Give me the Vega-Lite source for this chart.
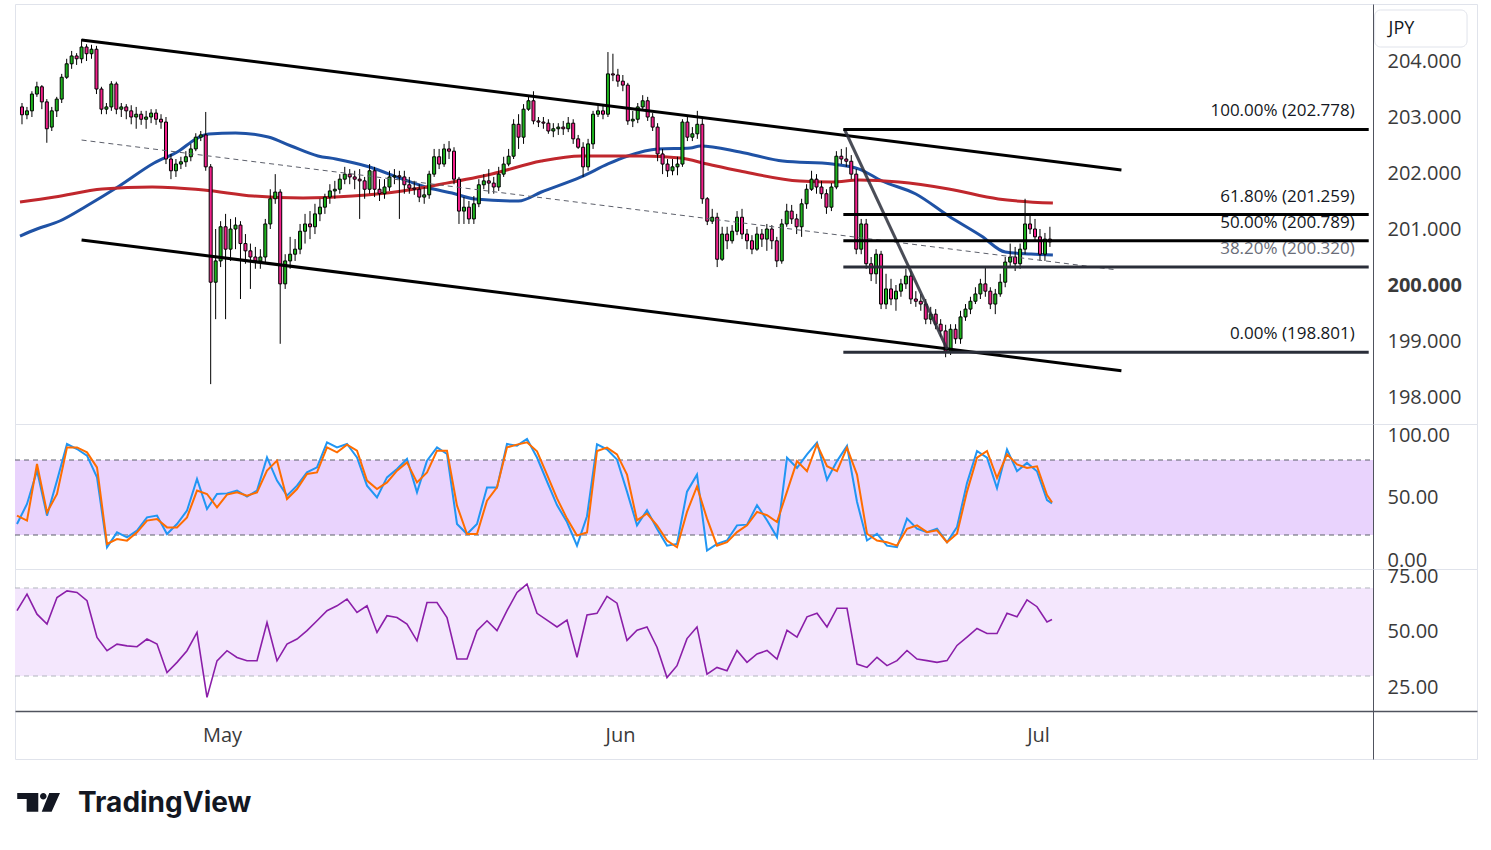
{
  "$schema": "https://vega.github.io/schema/vega-lite/v6.json",
  "background": "white",
  "padding": {"left": 12, "top": 3, "right": 0, "bottom": 0},
  "bounds": "flush",
  "spacing": 0,
  "config": {
    "view": {"stroke": "#e0e3eb", "strokeWidth": 1},
    "font": "Open Sans",
    "axis": {"grid": false, "ticks": false, "labelFont": "Open Sans", "labelFontSize": 20, "labelColor": "#3a3a3a", "domainColor": "#50535e", "domainWidth": 1, "labelOverlap": false, "labelFlush": false, "labelBound": false}
  },
  "datasets": {
    "candles": [
      {"i":0,"o":203.18,"h":203.25,"l":202.87,"c":203.04},
      {"i":1,"o":203.04,"h":203.18,"l":202.96,"c":203.11},
      {"i":2,"o":203.11,"h":203.46,"l":203.00,"c":203.41},
      {"i":3,"o":203.41,"h":203.63,"l":203.36,"c":203.54},
      {"i":4,"o":203.54,"h":203.57,"l":203.14,"c":203.27},
      {"i":5,"o":203.27,"h":203.32,"l":202.54,"c":202.79},
      {"i":6,"o":202.82,"h":203.18,"l":202.75,"c":203.11},
      {"i":7,"o":203.11,"h":203.36,"l":203.00,"c":203.32},
      {"i":8,"o":203.32,"h":203.77,"l":203.25,"c":203.71},
      {"i":9,"o":203.71,"h":204.04,"l":203.68,"c":203.95},
      {"i":10,"o":203.95,"h":204.18,"l":203.86,"c":204.09},
      {"i":11,"o":204.09,"h":204.14,"l":203.93,"c":204.04},
      {"i":12,"o":204.04,"h":204.39,"l":203.96,"c":204.25},
      {"i":13,"o":204.25,"h":204.30,"l":204.00,"c":204.13},
      {"i":14,"o":204.13,"h":204.29,"l":204.04,"c":204.21},
      {"i":15,"o":204.21,"h":204.27,"l":203.41,"c":203.50},
      {"i":16,"o":203.50,"h":203.54,"l":203.05,"c":203.14},
      {"i":17,"o":203.14,"h":203.25,"l":203.05,"c":203.18},
      {"i":18,"o":203.18,"h":203.64,"l":203.11,"c":203.59},
      {"i":19,"o":203.59,"h":203.63,"l":203.05,"c":203.14},
      {"i":20,"o":203.14,"h":203.25,"l":203.00,"c":203.18},
      {"i":21,"o":203.18,"h":203.23,"l":202.96,"c":203.11},
      {"i":22,"o":203.11,"h":203.21,"l":202.87,"c":203.00},
      {"i":23,"o":203.00,"h":203.18,"l":202.79,"c":203.05},
      {"i":24,"o":203.05,"h":203.11,"l":202.86,"c":202.96},
      {"i":25,"o":202.96,"h":203.11,"l":202.79,"c":203.00},
      {"i":26,"o":203.00,"h":203.14,"l":202.89,"c":203.07},
      {"i":27,"o":203.07,"h":203.14,"l":202.86,"c":202.96},
      {"i":28,"o":202.96,"h":203.05,"l":202.79,"c":202.91},
      {"i":29,"o":202.91,"h":203.00,"l":202.16,"c":202.25},
      {"i":30,"o":202.25,"h":202.34,"l":201.89,"c":202.04},
      {"i":31,"o":202.04,"h":202.25,"l":201.93,"c":202.16},
      {"i":32,"o":202.16,"h":202.29,"l":202.07,"c":202.20},
      {"i":33,"o":202.20,"h":202.39,"l":202.11,"c":202.29},
      {"i":34,"o":202.29,"h":202.52,"l":202.21,"c":202.43},
      {"i":35,"o":202.43,"h":202.71,"l":202.39,"c":202.64},
      {"i":36,"o":202.64,"h":202.75,"l":202.57,"c":202.68},
      {"i":37,"o":202.68,"h":203.09,"l":202.04,"c":202.11},
      {"i":38,"o":202.11,"h":202.16,"l":198.23,"c":200.05},
      {"i":39,"o":200.05,"h":201.00,"l":199.39,"c":200.43},
      {"i":40,"o":200.43,"h":201.14,"l":200.32,"c":201.04},
      {"i":41,"o":201.04,"h":201.27,"l":199.39,"c":200.64},
      {"i":42,"o":200.64,"h":201.18,"l":200.43,"c":201.00},
      {"i":43,"o":201.00,"h":201.21,"l":200.64,"c":201.07},
      {"i":44,"o":201.07,"h":201.14,"l":199.75,"c":200.74},
      {"i":45,"o":200.74,"h":200.91,"l":200.38,"c":200.61},
      {"i":46,"o":200.61,"h":200.74,"l":199.93,"c":200.50},
      {"i":47,"o":200.50,"h":200.68,"l":200.29,"c":200.43},
      {"i":48,"o":200.43,"h":200.64,"l":200.29,"c":200.50},
      {"i":49,"o":200.50,"h":201.18,"l":200.38,"c":201.09},
      {"i":50,"o":201.09,"h":201.71,"l":201.00,"c":201.54},
      {"i":51,"o":201.54,"h":201.98,"l":201.45,"c":201.66},
      {"i":52,"o":201.66,"h":201.71,"l":198.95,"c":200.02},
      {"i":53,"o":200.02,"h":200.55,"l":199.93,"c":200.43},
      {"i":54,"o":200.43,"h":200.86,"l":200.29,"c":200.55},
      {"i":55,"o":200.55,"h":200.82,"l":200.43,"c":200.64},
      {"i":56,"o":200.64,"h":201.09,"l":200.55,"c":200.96},
      {"i":57,"o":200.96,"h":201.27,"l":200.74,"c":201.09},
      {"i":58,"o":201.09,"h":201.32,"l":200.82,"c":201.04},
      {"i":59,"o":201.04,"h":201.45,"l":200.91,"c":201.27},
      {"i":60,"o":201.27,"h":201.54,"l":201.14,"c":201.39},
      {"i":61,"o":201.39,"h":201.63,"l":201.27,"c":201.57},
      {"i":62,"o":201.57,"h":201.80,"l":201.45,"c":201.68},
      {"i":63,"o":201.68,"h":201.86,"l":201.54,"c":201.71},
      {"i":64,"o":201.71,"h":201.98,"l":201.63,"c":201.89},
      {"i":65,"o":201.89,"h":202.11,"l":201.80,"c":201.98},
      {"i":66,"o":201.98,"h":202.07,"l":201.80,"c":201.93},
      {"i":67,"o":201.93,"h":202.04,"l":201.71,"c":201.89},
      {"i":68,"o":201.89,"h":202.07,"l":201.18,"c":201.86},
      {"i":69,"o":201.86,"h":201.93,"l":201.54,"c":201.71},
      {"i":70,"o":201.71,"h":202.16,"l":201.63,"c":202.04},
      {"i":71,"o":202.04,"h":202.11,"l":201.57,"c":201.71},
      {"i":72,"o":201.71,"h":201.89,"l":201.50,"c":201.63},
      {"i":73,"o":201.63,"h":201.89,"l":201.54,"c":201.75},
      {"i":74,"o":201.75,"h":202.04,"l":201.68,"c":201.93},
      {"i":75,"o":201.93,"h":202.07,"l":201.80,"c":201.95},
      {"i":76,"o":201.95,"h":202.04,"l":201.18,"c":201.93},
      {"i":77,"o":201.93,"h":202.04,"l":201.63,"c":201.79},
      {"i":78,"o":201.79,"h":201.93,"l":201.63,"c":201.73},
      {"i":79,"o":201.73,"h":201.86,"l":201.61,"c":201.71},
      {"i":80,"o":201.71,"h":201.80,"l":201.48,"c":201.57},
      {"i":81,"o":201.57,"h":201.75,"l":201.45,"c":201.61},
      {"i":82,"o":201.61,"h":202.04,"l":201.54,"c":201.98},
      {"i":83,"o":201.98,"h":202.43,"l":201.93,"c":202.29},
      {"i":84,"o":202.29,"h":202.43,"l":202.07,"c":202.16},
      {"i":85,"o":202.16,"h":202.52,"l":202.11,"c":202.43},
      {"i":86,"o":202.43,"h":202.57,"l":202.25,"c":202.39},
      {"i":87,"o":202.39,"h":202.46,"l":201.80,"c":201.89},
      {"i":88,"o":201.89,"h":201.93,"l":201.09,"c":201.32},
      {"i":89,"o":201.32,"h":201.57,"l":201.09,"c":201.39},
      {"i":90,"o":201.39,"h":201.50,"l":201.09,"c":201.18},
      {"i":91,"o":201.18,"h":201.59,"l":201.09,"c":201.45},
      {"i":92,"o":201.45,"h":201.89,"l":201.39,"c":201.79},
      {"i":93,"o":201.79,"h":201.98,"l":201.71,"c":201.86},
      {"i":94,"o":201.86,"h":202.07,"l":201.63,"c":201.82},
      {"i":95,"o":201.82,"h":201.93,"l":201.63,"c":201.75},
      {"i":96,"o":201.75,"h":202.11,"l":201.68,"c":201.98},
      {"i":97,"o":201.98,"h":202.29,"l":201.93,"c":202.16},
      {"i":98,"o":202.16,"h":202.43,"l":202.12,"c":202.30},
      {"i":99,"o":202.30,"h":202.96,"l":202.25,"c":202.87},
      {"i":100,"o":202.87,"h":203.05,"l":202.43,"c":202.64},
      {"i":101,"o":202.64,"h":203.23,"l":202.52,"c":203.14},
      {"i":102,"o":203.14,"h":203.39,"l":203.11,"c":203.29},
      {"i":103,"o":203.29,"h":203.46,"l":202.87,"c":202.93},
      {"i":104,"o":202.93,"h":203.00,"l":202.82,"c":202.91},
      {"i":105,"o":202.91,"h":203.00,"l":202.79,"c":202.89},
      {"i":106,"o":202.89,"h":202.96,"l":202.70,"c":202.75},
      {"i":107,"o":202.75,"h":202.89,"l":202.64,"c":202.79},
      {"i":108,"o":202.79,"h":202.89,"l":202.68,"c":202.82},
      {"i":109,"o":202.82,"h":202.93,"l":202.68,"c":202.79},
      {"i":110,"o":202.79,"h":203.00,"l":202.73,"c":202.89},
      {"i":111,"o":202.89,"h":202.96,"l":202.52,"c":202.61},
      {"i":112,"o":202.61,"h":202.68,"l":202.43,"c":202.46},
      {"i":113,"o":202.46,"h":202.55,"l":201.93,"c":202.11},
      {"i":114,"o":202.11,"h":202.61,"l":202.04,"c":202.52},
      {"i":115,"o":202.52,"h":203.11,"l":202.43,"c":203.05},
      {"i":116,"o":203.05,"h":203.21,"l":203.00,"c":203.11},
      {"i":117,"o":203.11,"h":203.23,"l":202.96,"c":203.05},
      {"i":118,"o":203.05,"h":204.16,"l":203.00,"c":203.77},
      {"i":119,"o":203.77,"h":204.13,"l":203.64,"c":203.75},
      {"i":120,"o":203.75,"h":203.86,"l":203.54,"c":203.64},
      {"i":121,"o":203.64,"h":203.75,"l":203.46,"c":203.57},
      {"i":122,"o":203.57,"h":203.61,"l":202.86,"c":202.93},
      {"i":123,"o":202.93,"h":203.11,"l":202.82,"c":202.96},
      {"i":124,"o":202.96,"h":203.25,"l":202.89,"c":203.18},
      {"i":125,"o":203.18,"h":203.39,"l":203.11,"c":203.29},
      {"i":126,"o":203.29,"h":203.36,"l":202.93,"c":203.00},
      {"i":127,"o":203.00,"h":203.07,"l":202.75,"c":202.82},
      {"i":128,"o":202.82,"h":202.89,"l":202.21,"c":202.34},
      {"i":129,"o":202.34,"h":202.43,"l":201.98,"c":202.16},
      {"i":130,"o":202.16,"h":202.25,"l":201.93,"c":202.04},
      {"i":131,"o":202.04,"h":202.25,"l":201.96,"c":202.11},
      {"i":132,"o":202.11,"h":202.29,"l":201.96,"c":202.16},
      {"i":133,"o":202.16,"h":202.96,"l":202.11,"c":202.91},
      {"i":134,"o":202.91,"h":203.00,"l":202.57,"c":202.64},
      {"i":135,"o":202.64,"h":202.82,"l":202.57,"c":202.70},
      {"i":136,"o":202.70,"h":203.11,"l":202.61,"c":202.87},
      {"i":137,"o":202.87,"h":203.00,"l":201.45,"c":201.54},
      {"i":138,"o":201.54,"h":201.57,"l":201.07,"c":201.14},
      {"i":139,"o":201.14,"h":201.36,"l":201.09,"c":201.21},
      {"i":140,"o":201.21,"h":201.29,"l":200.32,"c":200.46},
      {"i":141,"o":200.46,"h":201.04,"l":200.43,"c":200.91},
      {"i":142,"o":200.91,"h":201.04,"l":200.64,"c":200.79},
      {"i":143,"o":200.79,"h":201.07,"l":200.74,"c":200.96},
      {"i":144,"o":200.96,"h":201.32,"l":200.89,"c":201.21},
      {"i":145,"o":201.21,"h":201.36,"l":200.82,"c":200.91},
      {"i":146,"o":200.91,"h":201.00,"l":200.64,"c":200.79},
      {"i":147,"o":200.79,"h":200.89,"l":200.55,"c":200.64},
      {"i":148,"o":200.64,"h":201.04,"l":200.61,"c":200.91},
      {"i":149,"o":200.91,"h":201.00,"l":200.68,"c":200.82},
      {"i":150,"o":200.82,"h":201.09,"l":200.61,"c":201.00},
      {"i":151,"o":201.00,"h":201.07,"l":200.64,"c":200.79},
      {"i":152,"o":200.79,"h":200.86,"l":200.32,"c":200.43},
      {"i":153,"o":200.43,"h":201.18,"l":200.38,"c":201.09},
      {"i":154,"o":201.09,"h":201.45,"l":201.04,"c":201.32},
      {"i":155,"o":201.32,"h":201.43,"l":201.09,"c":201.18},
      {"i":156,"o":201.18,"h":201.27,"l":200.91,"c":201.04},
      {"i":157,"o":201.04,"h":201.54,"l":200.86,"c":201.45},
      {"i":158,"o":201.45,"h":201.80,"l":201.36,"c":201.71},
      {"i":159,"o":201.71,"h":202.04,"l":201.68,"c":201.89},
      {"i":160,"o":201.89,"h":201.98,"l":201.63,"c":201.75},
      {"i":161,"o":201.75,"h":201.86,"l":201.54,"c":201.63},
      {"i":162,"o":201.63,"h":201.71,"l":201.27,"c":201.39},
      {"i":163,"o":201.39,"h":201.82,"l":201.32,"c":201.75},
      {"i":164,"o":201.75,"h":202.39,"l":201.71,"c":202.30},
      {"i":165,"o":202.30,"h":202.43,"l":202.16,"c":202.25},
      {"i":166,"o":202.25,"h":202.46,"l":202.11,"c":202.21},
      {"i":167,"o":202.21,"h":202.32,"l":201.89,"c":201.98},
      {"i":168,"o":201.98,"h":202.07,"l":200.55,"c":200.64},
      {"i":169,"o":200.64,"h":201.18,"l":200.55,"c":201.09},
      {"i":170,"o":201.09,"h":201.18,"l":200.29,"c":200.38},
      {"i":171,"o":200.38,"h":200.50,"l":200.07,"c":200.20},
      {"i":172,"o":200.20,"h":200.64,"l":200.02,"c":200.55},
      {"i":173,"o":200.55,"h":200.61,"l":199.57,"c":199.66},
      {"i":174,"o":199.66,"h":200.20,"l":199.57,"c":199.93},
      {"i":175,"o":199.93,"h":200.11,"l":199.64,"c":199.75},
      {"i":176,"o":199.75,"h":200.00,"l":199.54,"c":199.89},
      {"i":177,"o":199.89,"h":200.11,"l":199.79,"c":200.02},
      {"i":178,"o":200.02,"h":200.29,"l":199.93,"c":200.16},
      {"i":179,"o":200.16,"h":200.25,"l":199.66,"c":199.75},
      {"i":180,"o":199.75,"h":199.89,"l":199.61,"c":199.71},
      {"i":181,"o":199.71,"h":199.84,"l":199.54,"c":199.66},
      {"i":182,"o":199.66,"h":199.75,"l":199.30,"c":199.39},
      {"i":183,"o":199.39,"h":199.61,"l":199.30,"c":199.48},
      {"i":184,"o":199.48,"h":199.57,"l":199.21,"c":199.30},
      {"i":185,"o":199.30,"h":199.39,"l":199.07,"c":199.18},
      {"i":186,"o":199.18,"h":199.29,"l":198.71,"c":198.82},
      {"i":187,"o":198.82,"h":199.30,"l":198.75,"c":199.21},
      {"i":188,"o":199.21,"h":199.30,"l":198.95,"c":199.04},
      {"i":189,"o":199.04,"h":199.54,"l":198.95,"c":199.43},
      {"i":190,"o":199.43,"h":199.66,"l":199.36,"c":199.57},
      {"i":191,"o":199.57,"h":199.79,"l":199.48,"c":199.71},
      {"i":192,"o":199.71,"h":199.96,"l":199.66,"c":199.84},
      {"i":193,"o":199.84,"h":200.11,"l":199.75,"c":200.02},
      {"i":194,"o":200.02,"h":200.32,"l":199.79,"c":199.89},
      {"i":195,"o":199.89,"h":199.96,"l":199.57,"c":199.66},
      {"i":196,"o":199.66,"h":199.93,"l":199.48,"c":199.84},
      {"i":197,"o":199.84,"h":200.20,"l":199.79,"c":200.05},
      {"i":198,"o":200.05,"h":200.50,"l":199.96,"c":200.41},
      {"i":199,"o":200.41,"h":200.74,"l":200.32,"c":200.50},
      {"i":200,"o":200.50,"h":200.68,"l":200.25,"c":200.38},
      {"i":201,"o":200.38,"h":200.74,"l":200.29,"c":200.64},
      {"i":202,"o":200.64,"h":201.54,"l":200.55,"c":201.09},
      {"i":203,"o":201.09,"h":201.27,"l":200.91,"c":201.00},
      {"i":204,"o":201.00,"h":201.18,"l":200.79,"c":200.86},
      {"i":205,"o":200.86,"h":201.00,"l":200.43,"c":200.55},
      {"i":206,"o":200.55,"h":200.93,"l":200.43,"c":200.82},
      {"i":207,"o":200.82,"h":201.04,"l":200.68,"c":200.77}
    ],
    "ma": [
      {"s":"fast","i":-0.4,"p":200.875},{"s":"fast","i":3,"p":201.0},{"s":"fast","i":7.6,"p":201.143},{"s":"fast","i":13,"p":201.411},
      {"s":"fast","i":19.6,"p":201.768},{"s":"fast","i":26.6,"p":202.179},{"s":"fast","i":31.6,"p":202.393},{"s":"fast","i":35,"p":202.607},
      {"s":"fast","i":37.6,"p":202.696},{"s":"fast","i":43,"p":202.714},{"s":"fast","i":49.6,"p":202.643},{"s":"fast","i":54.2,"p":202.482},
      {"s":"fast","i":59.6,"p":202.304},{"s":"fast","i":63.2,"p":202.25},{"s":"fast","i":70,"p":202.107},{"s":"fast","i":76.6,"p":201.893},
      {"s":"fast","i":82,"p":201.732},{"s":"fast","i":86.6,"p":201.643},{"s":"fast","i":91.2,"p":201.536},{"s":"fast","i":100,"p":201.5},
      {"s":"fast","i":104.6,"p":201.661},{"s":"fast","i":112.6,"p":201.929},{"s":"fast","i":118,"p":202.161},{"s":"fast","i":122,"p":202.304},
      {"s":"fast","i":128,"p":202.429},{"s":"fast","i":134.6,"p":202.446},{"s":"fast","i":136.6,"p":202.482},{"s":"fast","i":144.6,"p":202.375},
      {"s":"fast","i":153.2,"p":202.214},{"s":"fast","i":163.2,"p":202.161},{"s":"fast","i":168.6,"p":202.071},{"s":"fast","i":173.2,"p":201.857},
      {"s":"fast","i":180,"p":201.625},{"s":"fast","i":186.6,"p":201.232},{"s":"fast","i":193.2,"p":200.875},{"s":"fast","i":198,"p":200.589},
      {"s":"fast","i":203.2,"p":200.554},{"s":"fast","i":207.6,"p":200.536},
      {"s":"slow","i":-0.4,"p":201.482},{"s":"slow","i":6.6,"p":201.571},{"s":"slow","i":16.2,"p":201.714},{"s":"slow","i":26.2,"p":201.75},
      {"s":"slow","i":36.6,"p":201.696},{"s":"slow","i":46.6,"p":201.589},{"s":"slow","i":56.6,"p":201.554},{"s":"slow","i":66.6,"p":201.589},
      {"s":"slow","i":76.6,"p":201.679},{"s":"slow","i":84.6,"p":201.804},{"s":"slow","i":94.6,"p":201.982},{"s":"slow","i":104.6,"p":202.214},
      {"s":"slow","i":112.6,"p":202.304},{"s":"slow","i":124.6,"p":202.304},{"s":"slow","i":132.6,"p":202.268},{"s":"slow","i":138,"p":202.161},
      {"s":"slow","i":144.6,"p":202.036},{"s":"slow","i":156.6,"p":201.857},{"s":"slow","i":163.2,"p":201.839},{"s":"slow","i":168.6,"p":201.875},
      {"s":"slow","i":176.6,"p":201.839},{"s":"slow","i":186.6,"p":201.714},{"s":"slow","i":196.6,"p":201.536},{"s":"slow","i":207.6,"p":201.464}
    ],
    "fib": [
      {"label":"100.00% (202.778)","p":202.778},
      {"label":"61.80% (201.259)","p":201.259},
      {"label":"50.00% (200.789)","p":200.789},
      {"label":"38.20% (200.320)","p":200.320},
      {"label":"0.00% (198.801)","p":198.801}
    ],
    "osc": [
      {"i":0,"k":28.8,"d":35.5,"r":59.7},{"i":2,"k":44.8,"d":31.5,"r":67.2},{"i":4,"k":71.5,"d":76.8,"r":58.1},{"i":6,"k":35.5,"d":38.1,"r":53.6},
      {"i":8,"k":63.5,"d":52.8,"r":65.7},{"i":10,"k":92.8,"d":90.1,"r":68.7},{"i":12,"k":88.8,"d":90.1,"r":68.0},{"i":14,"k":83.5,"d":86.1,"r":64.2},
      {"i":16,"k":66.1,"d":74.1,"r":47.5},{"i":18,"k":10.1,"d":12.8,"r":41.5},{"i":20,"k":22.1,"d":16.8,"r":44.5},{"i":22,"k":18.1,"d":15.5,"r":43.7},
      {"i":24,"k":23.5,"d":22.1,"r":43.3},{"i":26,"k":34.1,"d":31.5,"r":46.8},{"i":28,"k":35.5,"d":32.8,"r":44.5},{"i":30,"k":20.8,"d":26.1,"r":31.6},
      {"i":32,"k":28.8,"d":26.1,"r":36.2},{"i":34,"k":39.5,"d":34.1,"r":41.5},{"i":36,"k":64.8,"d":55.5,"r":49.8},{"i":38,"k":40.8,"d":52.8,"r":20.3},
      {"i":40,"k":52.8,"d":42.1,"r":36.9},{"i":42,"k":53.3,"d":52.3,"r":41.5},{"i":44,"k":55.5,"d":54.1,"r":38.4},{"i":46,"k":50.7,"d":51.5,"r":36.9},
      {"i":48,"k":55.5,"d":54.1,"r":36.9},{"i":50,"k":82.1,"d":71.5,"r":54.3},{"i":52,"k":63.5,"d":79.5,"r":36.9},{"i":54,"k":51.5,"d":48.8,"r":44.5},
      {"i":56,"k":59.5,"d":56.8,"r":46.8},{"i":58,"k":70.1,"d":68.8,"r":50.6},{"i":60,"k":74.1,"d":70.1,"r":55.1},{"i":62,"k":94.1,"d":90.1,"r":59.7},
      {"i":64,"k":90.1,"d":86.1,"r":61.9},{"i":66,"k":92.8,"d":92.3,"r":65.0},{"i":68,"k":82.1,"d":87.5,"r":58.9},{"i":70,"k":59.5,"d":63.5,"r":61.9},
      {"i":72,"k":50.1,"d":56.8,"r":49.8},{"i":74,"k":66.1,"d":62.1,"r":57.4},{"i":76,"k":72.8,"d":71.5,"r":56.6},{"i":78,"k":80.8,"d":78.1,"r":53.6},
      {"i":80,"k":54.1,"d":62.1,"r":46.0},{"i":82,"k":79.5,"d":70.1,"r":63.4},{"i":84,"k":90.1,"d":87.5,"r":63.4},{"i":86,"k":84.8,"d":87.5,"r":56.6},
      {"i":88,"k":28.8,"d":43.5,"r":37.7},{"i":90,"k":20.8,"d":20.8,"r":37.7},{"i":92,"k":28.8,"d":20.8,"r":50.6},{"i":94,"k":58.1,"d":47.5,"r":55.1},
      {"i":96,"k":58.1,"d":58.1,"r":50.6},{"i":98,"k":92.8,"d":90.1,"r":59.7},{"i":100,"k":91.5,"d":92.3,"r":68.0},{"i":102,"k":96.8,"d":94.1,"r":71.8},
      {"i":104,"k":82.0,"d":87.0,"r":58.5},{"i":106,"k":62.8,"d":68.3,"r":55.4},{"i":108,"k":43.9,"d":49.3,"r":52.3},{"i":110,"k":30.4,"d":33.1,"r":55.4},
      {"i":112,"k":11.5,"d":19.6,"r":38.5},{"i":114,"k":35.0,"d":22.0,"r":57.7},{"i":116,"k":92.6,"d":87.2,"r":58.5},{"i":118,"k":88.5,"d":89.9,"r":66.2},
      {"i":120,"k":80.4,"d":84.5,"r":63.1},{"i":122,"k":54.7,"d":68.3,"r":46.2},{"i":124,"k":27.7,"d":31.8,"r":50.8},{"i":126,"k":39.9,"d":37.2,"r":52.3},
      {"i":128,"k":25.0,"d":27.7,"r":43.1},{"i":130,"k":11.5,"d":15.6,"r":29.3},{"i":132,"k":12.9,"d":10.2,"r":34.7},{"i":134,"k":54.7,"d":38.5,"r":47.0},
      {"i":136,"k":68.3,"d":58.8,"r":52.3},{"i":138,"k":7.5,"d":33.1,"r":30.8},{"i":140,"k":12.9,"d":11.5,"r":33.9},{"i":142,"k":15.6,"d":14.2,"r":32.4},
      {"i":144,"k":27.7,"d":22.3,"r":41.6},{"i":146,"k":28.3,"d":27.7,"r":36.2},{"i":148,"k":43.9,"d":38.5,"r":40.0},{"i":150,"k":31.8,"d":35.8,"r":41.6},
      {"i":152,"k":18.3,"d":30.4,"r":37.7},{"i":154,"k":81.8,"d":54.7,"r":50.8},{"i":156,"k":73.7,"d":79.1,"r":47.7},{"i":158,"k":84.5,"d":71.0,"r":56.9},
      {"i":160,"k":93.9,"d":92.6,"r":58.5},{"i":162,"k":64.2,"d":75.0,"r":52.3},{"i":164,"k":79.1,"d":71.0,"r":60.8},{"i":166,"k":91.2,"d":89.9,"r":60.8},
      {"i":168,"k":46.6,"d":68.3,"r":35.4},{"i":170,"k":15.6,"d":21.0,"r":33.9},{"i":172,"k":21.0,"d":15.6,"r":38.5},{"i":174,"k":11.5,"d":14.2,"r":34.7},
      {"i":176,"k":10.2,"d":11.5,"r":37.0},{"i":178,"k":33.1,"d":25.0,"r":41.6},{"i":180,"k":25.0,"d":27.7,"r":37.7},{"i":182,"k":22.3,"d":22.3,"r":37.0},
      {"i":184,"k":25.0,"d":23.7,"r":36.2},{"i":186,"k":14.2,"d":14.2,"r":37.0},{"i":188,"k":26.4,"d":21.0,"r":43.9},{"i":190,"k":61.5,"d":54.7,"r":47.7},
      {"i":192,"k":87.2,"d":81.8,"r":51.6},{"i":194,"k":81.8,"d":87.2,"r":49.3},{"i":196,"k":57.4,"d":65.6,"r":49.3},{"i":198,"k":88.5,"d":84.5,"r":58.5},
      {"i":200,"k":71.0,"d":76.4,"r":56.9},{"i":202,"k":77.7,"d":73.7,"r":64.6},{"i":204,"k":71.0,"d":75.0,"r":61.5},{"i":206,"k":48.0,"d":52.0,"r":54.6},
      {"i":207,"k":45.3,"d":46.1,"r":55.7}
    ]
  },
  "vconcat": [
    {
      "width": 1462,
      "height": 420,
      "layer": [
        {
          "data": {"name": "ma"},
          "mark": {"type": "line", "strokeWidth": 3, "interpolate": "monotone"},
          "encoding": {
            "x": {"field": "i", "type": "quantitative", "scale": {"domain": [-0.4, 292], "nice": false, "zero": false}, "axis": null},
            "y": {"field": "p", "type": "quantitative", "scale": {"domain": [197.518, 205.018], "nice": false, "zero": false},
              "axis": {"orient": "right", "offset": -104, "values": [198, 199, 200, 201, 202, 203, 204], "format": ".3f", "labelPadding": 14, "title": null,
                "labelFontWeight": {"condition": {"test": "datum.value == 200", "value": "bold"}, "value": "normal"}}},
            "color": {"field": "s", "type": "nominal", "scale": {"domain": ["fast", "slow"], "range": ["#1f52a5", "#c0272d"]}, "legend": null}
          }
        },
        {
          "data": {"name": "candles"},
          "mark": {"type": "rule", "color": "#000000", "strokeWidth": 1},
          "encoding": {
            "x": {"field": "i", "type": "quantitative", "scale": {"domain": [-0.4, 292], "nice": false, "zero": false}, "axis": null},
            "y": {"field": "l", "type": "quantitative", "scale": {"domain": [197.518, 205.018], "nice": false, "zero": false}},
            "y2": {"field": "h"}
          }
        },
        {
          "data": {"name": "candles"},
          "mark": {"type": "bar", "width": 3, "stroke": "#000000", "strokeWidth": 1},
          "encoding": {
            "x": {"field": "i", "type": "quantitative", "scale": {"domain": [-0.4, 292], "nice": false, "zero": false}, "axis": null},
            "y": {"field": "o", "type": "quantitative", "scale": {"domain": [197.518, 205.018], "nice": false, "zero": false}},
            "y2": {"field": "c"},
            "fill": {"condition": {"test": "datum.c > datum.o", "value": "#1db31d"}, "value": "#f2208a"}
          }
        },
        {
          "data": {"values": [
            {"line": "upper", "i": 12, "p": 204.375}, {"line": "upper", "i": 221.4, "p": 202.054},
            {"line": "lower", "i": 12, "p": 200.805}, {"line": "lower", "i": 221.4, "p": 198.469}
          ]},
          "mark": {"type": "line", "color": "#000000", "strokeWidth": 3},
          "encoding": {
            "x": {"field": "i", "type": "quantitative", "scale": {"domain": [-0.4, 292], "nice": false, "zero": false}, "axis": null},
            "y": {"field": "p", "type": "quantitative", "scale": {"domain": [197.518, 205.018], "nice": false, "zero": false}},
            "detail": {"field": "line"}
          }
        },
        {
          "data": {"values": [{"i": 12, "p": 202.589}, {"i": 220.2, "p": 200.273}]},
          "mark": {"type": "line", "color": "#5d606b", "strokeWidth": 1, "strokeDash": [5, 4]},
          "encoding": {
            "x": {"field": "i", "type": "quantitative", "scale": {"domain": [-0.4, 292], "nice": false, "zero": false}, "axis": null},
            "y": {"field": "p", "type": "quantitative", "scale": {"domain": [197.518, 205.018], "nice": false, "zero": false}}
          }
        },
        {
          "data": {"values": [{"i": 165.6, "p": 202.786}, {"i": 186.3, "p": 198.857}]},
          "mark": {"type": "line", "color": "#2a2e39", "opacity": 0.85, "strokeWidth": 3},
          "encoding": {
            "x": {"field": "i", "type": "quantitative", "scale": {"domain": [-0.4, 292], "nice": false, "zero": false}, "axis": null},
            "y": {"field": "p", "type": "quantitative", "scale": {"domain": [197.518, 205.018], "nice": false, "zero": false}}
          }
        },
        {
          "data": {"name": "fib"},
          "mark": {"type": "text", "align": "right", "baseline": "middle", "dy": -18, "fontSize": 17, "font": "Open Sans"},
          "encoding": {
            "x": {"datum": 268.4, "type": "quantitative", "scale": {"domain": [-0.4, 292], "nice": false, "zero": false}, "axis": null},
            "y": {"field": "p", "type": "quantitative", "scale": {"domain": [197.518, 205.018], "nice": false, "zero": false}},
            "text": {"field": "label"},
            "color": {"condition": {"test": "datum.p > 200 && datum.p < 200.5", "value": "#6a6d78"}, "value": "#131722"}
          }
        },
        {
          "data": {"name": "fib"},
          "mark": {"type": "rule", "strokeWidth": 3},
          "encoding": {
            "x": {"datum": 165.4, "type": "quantitative", "scale": {"domain": [-0.4, 292], "nice": false, "zero": false}, "axis": null},
            "x2": {"datum": 271.2},
            "y": {"field": "p", "type": "quantitative", "scale": {"domain": [197.518, 205.018], "nice": false, "zero": false}},
            "color": {"condition": {"test": "datum.p > 200.5", "value": "#000000"}, "value": "#2a2e39"}
          }
        },
        {
          "data": {"values": [{"tag": "JPY"}]},
          "mark": {"type": "rect", "fill": "white", "stroke": "#e0e3eb", "strokeWidth": 1, "cornerRadius": 6},
          "encoding": {
            "x": {"datum": 272.4, "type": "quantitative", "scale": {"domain": [-0.4, 292], "nice": false, "zero": false}, "axis": null},
            "x2": {"datum": 291},
            "y": {"datum": 204.911, "type": "quantitative", "scale": {"domain": [197.518, 205.018], "nice": false, "zero": false}},
            "y2": {"datum": 204.25}
          }
        },
        {
          "data": {"values": [{"tag": "JPY"}]},
          "mark": {"type": "text", "align": "left", "baseline": "middle", "fontSize": 18, "font": "Open Sans", "color": "#131722"},
          "encoding": {
            "x": {"datum": 275.2, "type": "quantitative", "scale": {"domain": [-0.4, 292], "nice": false, "zero": false}, "axis": null},
            "y": {"datum": 204.571, "type": "quantitative", "scale": {"domain": [197.518, 205.018], "nice": false, "zero": false}},
            "text": {"field": "tag"}
          }
        }
      ]
    },
    {
      "width": 1462,
      "height": 145,
      "layer": [
        {
          "data": {"values": [{"lo": 20, "hi": 80}]},
          "mark": {"type": "rect", "color": "#e9d3fd"},
          "encoding": {
            "x": {"datum": -0.4, "type": "quantitative", "scale": {"domain": [-0.4, 292], "nice": false, "zero": false}, "axis": null},
            "x2": {"datum": 271.2},
            "y": {"field": "lo", "type": "quantitative", "scale": {"domain": [-7.2, 108.8], "nice": false, "zero": false},
              "axis": {"orient": "right", "offset": -104, "values": [0, 50, 100], "format": ".2f", "labelPadding": 14, "title": null}},
            "y2": {"field": "hi"}
          }
        },
        {
          "data": {"values": [{"lvl": 80}, {"lvl": 20}]},
          "mark": {"type": "rule", "color": "#5d606b", "strokeWidth": 1, "strokeDash": [5, 4]},
          "encoding": {
            "x": {"datum": -0.4, "type": "quantitative", "scale": {"domain": [-0.4, 292], "nice": false, "zero": false}, "axis": null},
            "x2": {"datum": 271.2},
            "y": {"field": "lvl", "type": "quantitative", "scale": {"domain": [-7.2, 108.8], "nice": false, "zero": false}}
          }
        },
        {
          "data": {"name": "osc"},
          "mark": {"type": "line", "color": "#2196f3", "strokeWidth": 2},
          "encoding": {
            "x": {"field": "i", "type": "quantitative", "scale": {"domain": [-0.4, 292], "nice": false, "zero": false}, "axis": null},
            "y": {"field": "k", "type": "quantitative", "scale": {"domain": [-7.2, 108.8], "nice": false, "zero": false}}
          }
        },
        {
          "data": {"name": "osc"},
          "mark": {"type": "line", "color": "#ff6d00", "strokeWidth": 2},
          "encoding": {
            "x": {"field": "i", "type": "quantitative", "scale": {"domain": [-0.4, 292], "nice": false, "zero": false}, "axis": null},
            "y": {"field": "d", "type": "quantitative", "scale": {"domain": [-7.2, 108.8], "nice": false, "zero": false}}
          }
        }
      ]
    },
    {
      "width": 1462,
      "height": 190,
      "layer": [
        {
          "data": {"values": [{"lo": 30, "hi": 70}]},
          "mark": {"type": "rect", "color": "#f4e7fd"},
          "encoding": {
            "x": {"datum": -0.4, "type": "quantitative", "scale": {"domain": [-0.4, 292], "nice": false, "zero": false},
              "axis": {"orient": "bottom", "offset": -48, "values": [41, 120.6, 204.2], "labelExpr": "datum.value < 80 ? 'May' : (datum.value < 160 ? 'Jun' : 'Jul')", "labelPadding": 14, "domainWidth": 1.5, "title": null}},
            "x2": {"datum": 271.2},
            "y": {"field": "lo", "type": "quantitative", "scale": {"domain": [-7.727, 78.636], "nice": false, "zero": false},
              "axis": {"orient": "right", "offset": -104, "values": [25, 50, 75], "format": ".2f", "labelPadding": 14, "title": null}},
            "y2": {"field": "hi"}
          }
        },
        {
          "data": {"values": [{"lvl": 70}, {"lvl": 30}]},
          "mark": {"type": "rule", "color": "#b2b5be", "strokeWidth": 1, "strokeDash": [5, 4]},
          "encoding": {
            "x": {"datum": -0.4, "type": "quantitative", "scale": {"domain": [-0.4, 292], "nice": false, "zero": false}},
            "x2": {"datum": 271.2},
            "y": {"field": "lvl", "type": "quantitative", "scale": {"domain": [-7.727, 78.636], "nice": false, "zero": false}}
          }
        },
        {
          "data": {"name": "osc"},
          "mark": {"type": "line", "color": "#8b1fa9", "strokeWidth": 1.6},
          "encoding": {
            "x": {"field": "i", "type": "quantitative", "scale": {"domain": [-0.4, 292], "nice": false, "zero": false}},
            "y": {"field": "r", "type": "quantitative", "scale": {"domain": [-7.727, 78.636], "nice": false, "zero": false}}
          }
        }
      ]
    },
    {
      "width": 1462,
      "height": 90,
      "view": {"stroke": null},
      "data": {"values": [{"brand": "TradingView"}]},
      "layer": [
        {
          "mark": {"type": "point", "shape": "M-0.99,-0.44L-0.01,-0.44L-0.01,0.43L-0.55,0.43L-0.55,-0.16L-0.99,-0.16Z M0.07,-0.29A0.153,0.153 0 1,0 0.376,-0.29A0.153,0.153 0 1,0 0.07,-0.29Z M0.50,-0.44L1,-0.44L0.61,0.43L0.15,0.43Z", "filled": true, "fill": "#131722", "size": 1849, "strokeWidth": 0, "opacity": 1},
          "encoding": {
            "x": {"datum": 23.5, "type": "quantitative", "scale": {"domain": [0, 1462], "nice": false, "zero": false}, "axis": null},
            "y": {"datum": 43.5, "type": "quantitative", "scale": {"domain": [0, 90], "reverse": true, "nice": false, "zero": false}, "axis": null}
          }
        },
        {
          "mark": {"type": "text", "align": "left", "baseline": "alphabetic", "font": "Inter", "fontSize": 28, "fontWeight": 700, "color": "#131722"},
          "encoding": {
            "x": {"datum": 63, "type": "quantitative", "scale": {"domain": [0, 1462], "nice": false, "zero": false}, "axis": null},
            "y": {"datum": 52.7, "type": "quantitative", "scale": {"domain": [0, 90], "reverse": true, "nice": false, "zero": false}, "axis": null},
            "text": {"field": "brand"}
          }
        }
      ]
    }
  ]
}
